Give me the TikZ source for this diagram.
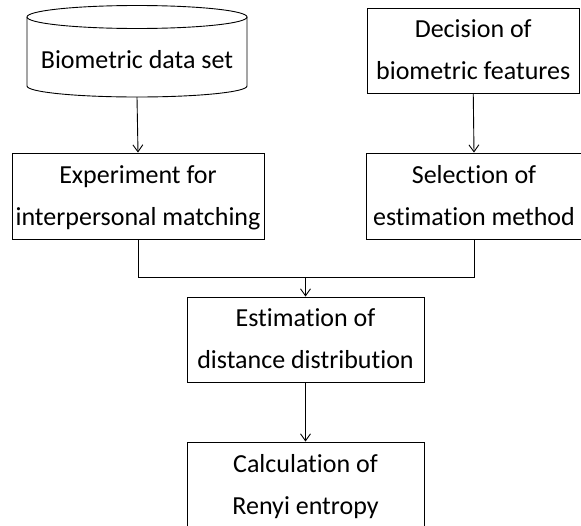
\documentclass[tikz,border=0pt]{standalone}
\usepackage{fontspec}
\setmainfont[Ligatures={NoCommon,NoRare,NoContextual},RawFeature={-liga;-clig;-calt;-dlig}]{Carlito}
\usetikzlibrary{arrows.meta}
\tikzset{
  box/.style={draw=black, line width=0.9pt, rectangle, inner sep=0pt, align=center,
    font=\fontsize{26}{42}\selectfont},
  conn/.style={draw=black, line width=0.9pt},
  arr/.style={conn, -{Straight Barb[length=7pt,width=10pt,line width=0.9pt]}},
}
\begin{document}
\begin{tikzpicture}[x=1pt,y=-1pt]
\clip (0,0) rectangle (581,525);
% cylinder (data set)
\node[inner sep=0pt, minimum width=220pt, minimum height=92pt] (db) at (137,51) {};
\node[inner sep=0pt, font=\fontsize{26}{42}\selectfont] (dbtext) at (137,60) {Biometric data set};
\draw[conn] (137,17) ellipse [x radius=110pt, y radius=11.5pt];
\draw[conn] (27,17) -- (27,86) arc[start angle=180, end angle=360, x radius=110pt, y radius=11pt] -- (247,17);
% boxes
\node[box, minimum width=212.5pt, minimum height=85pt] (dec) at (473.25,50.5) {\strut Decision of\\\strut biometric features};
\node[box, minimum width=252pt, minimum height=86pt] (exp) at (138,196) {\strut Experiment for\\\strut interpersonal matching};
\node[box, minimum width=216pt, minimum height=86pt] (sel) at (474,196) {\strut Selection of\\\strut estimation method};
\node[box, minimum width=237pt, minimum height=85pt] (est) at (305.5,339.5) {\strut Estimation of\\\strut distance distribution};
\node[box, minimum width=237pt, minimum height=86pt] (calc) at (305.5,485) {\strut Calculation of\\\strut Renyi entropy};
% connectors
\coordinate (j) at (305.5,277);
\draw[arr] (db.south) -- (exp.north);
\draw[arr] (dec.south) -- (sel.north);
\draw[conn] (exp.south) |- (j);
\draw[conn] (sel.south) |- (j);
\draw[arr] (j) -- (est.north);
\draw[arr] (est.south) -- (calc.north);
\end{tikzpicture}
\end{document}
